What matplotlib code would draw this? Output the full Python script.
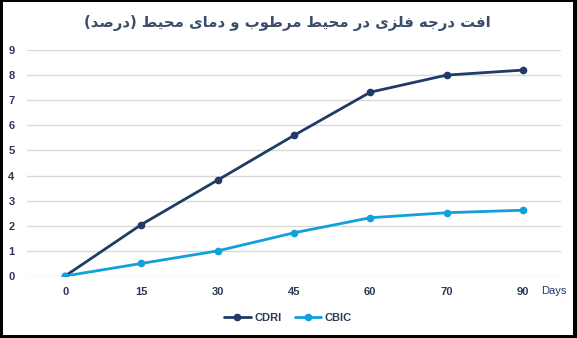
import matplotlib
matplotlib.use("Agg")
import matplotlib.pyplot as plt
from matplotlib.patches import Rectangle

categories = ["0", "15", "30", "45", "60", "70", "90"]
cdri = [0, 2.05, 3.82, 5.6, 7.32, 8.0, 8.2]
cbic = [0, 0.5, 1.0, 1.72, 2.32, 2.52, 2.62]
yticks = [0, 1, 2, 3, 4, 5, 6, 7, 8, 9]
title_text = "افت درجه فلزی در محیط مرطوب و دمای محیط (درصد)"

# Minimal Arabic/Persian shaping (presentation forms) + visual reordering
FORMS = {
    "ا": ("\uFE8D", "\uFE8E", None, None),
    "ب": ("\uFE8F", "\uFE90", "\uFE91", "\uFE92"),
    "ت": ("\uFE95", "\uFE96", "\uFE97", "\uFE98"),
    "ج": ("\uFE9D", "\uFE9E", "\uFE9F", "\uFEA0"),
    "ح": ("\uFEA1", "\uFEA2", "\uFEA3", "\uFEA4"),
    "د": ("\uFEA9", "\uFEAA", None, None),
    "ر": ("\uFEAD", "\uFEAE", None, None),
    "ز": ("\uFEAF", "\uFEB0", None, None),
    "ص": ("\uFEB9", "\uFEBA", "\uFEBB", "\uFEBC"),
    "ط": ("\uFEC1", "\uFEC2", "\uFEC3", "\uFEC4"),
    "ف": ("\uFED1", "\uFED2", "\uFED3", "\uFED4"),
    "ل": ("\uFEDD", "\uFEDE", "\uFEDF", "\uFEE0"),
    "م": ("\uFEE1", "\uFEE2", "\uFEE3", "\uFEE4"),
    "ه": ("\uFEE9", "\uFEEA", "\uFEEB", "\uFEEC"),
    "و": ("\uFEED", "\uFEEE", None, None),
    "ی": ("\uFEEF", "\uFEF0", "\uFEF3", "\uFEF4"),
}


def shape(s):
    out = []
    n = len(s)
    for i, c in enumerate(s):
        if c not in FORMS:
            out.append(c)
            continue
        iso, fin, ini, med = FORMS[c]
        prev = s[i - 1] if i > 0 else None
        nxt = s[i + 1] if i + 1 < n else None
        prev_join = prev in FORMS and FORMS[prev][2] is not None
        next_join = nxt in FORMS and ini is not None
        if prev_join and next_join:
            out.append(med)
        elif prev_join:
            out.append(fin)
        elif next_join:
            out.append(ini)
        else:
            out.append(iso)
    vis = "".join(reversed(out))
    vis = vis.translate(str.maketrans({"(": ")", ")": "("}))
    return vis


W, H = 577, 338
fig = plt.figure(figsize=(W / 100, H / 100), dpi=100)
fig.patch.set_facecolor("black")
fig.patches.append(Rectangle((3 / W, 1 - 335 / H), 570 / W, 333 / H,
                             transform=fig.transFigure, facecolor="white",
                             edgecolor="none", zorder=-10))

ax = fig.add_axes([27 / W, (H - 276) / H, 534 / W, 226 / H])
ax.set_facecolor("none")

x = list(range(len(categories)))
navy = "#1f3b66"
light = "#12a0dc"
ax.plot(x, cdri, color=navy, lw=2.0, marker="o", ms=4.5, label="CDRI", zorder=3,
        solid_capstyle="round")
ax.plot(x, cbic, color=light, lw=2.0, marker="o", ms=4.5, label="CBIC", zorder=4,
        solid_capstyle="round")

ax.set_xlim(-0.5, 6.5)
ax.set_ylim(0, 9)
ax.set_yticks(yticks)
ax.set_xticks(x)
ax.set_xticklabels(categories)
ax.grid(axis="y", color="#d9d9d9", lw=1.0, zorder=0)
ax.set_axisbelow(True)
for sp in ax.spines.values():
    sp.set_visible(False)
ax.tick_params(length=0)
label_color = "#2b3a55"
tick_font = dict(family=["Liberation Sans", "DejaVu Sans"], weight="bold", size=8)
for lab in ax.get_yticklabels():
    lab.set(color=label_color, **tick_font)
for lab in ax.get_xticklabels():
    lab.set(color=label_color, **tick_font)
ax.tick_params(axis="y", pad=9)
ax.tick_params(axis="x", pad=8)

fig.text(554 / W, 1 - 291 / H, "Days", ha="center", va="center", color=navy,
         family=["Liberation Sans", "DejaVu Sans"], size=8)

fig.text(287 / W, 1 - 23 / H, shape(title_text), ha="center", va="center",
         color="#3b4d6b", fontsize=10.7, fontweight="bold", family="DejaVu Sans")

leg = fig.legend(loc="center", bbox_to_anchor=(288 / W, 1 - 318 / H), ncol=2,
                 frameon=False, handlelength=2.4, columnspacing=1.2, handletextpad=0.3,
                 prop=dict(family=["Liberation Sans", "DejaVu Sans"], weight="bold", size=8))
for t in leg.get_texts():
    t.set_color(label_color)

fig.savefig("out.png", dpi=100, facecolor=fig.get_facecolor())
